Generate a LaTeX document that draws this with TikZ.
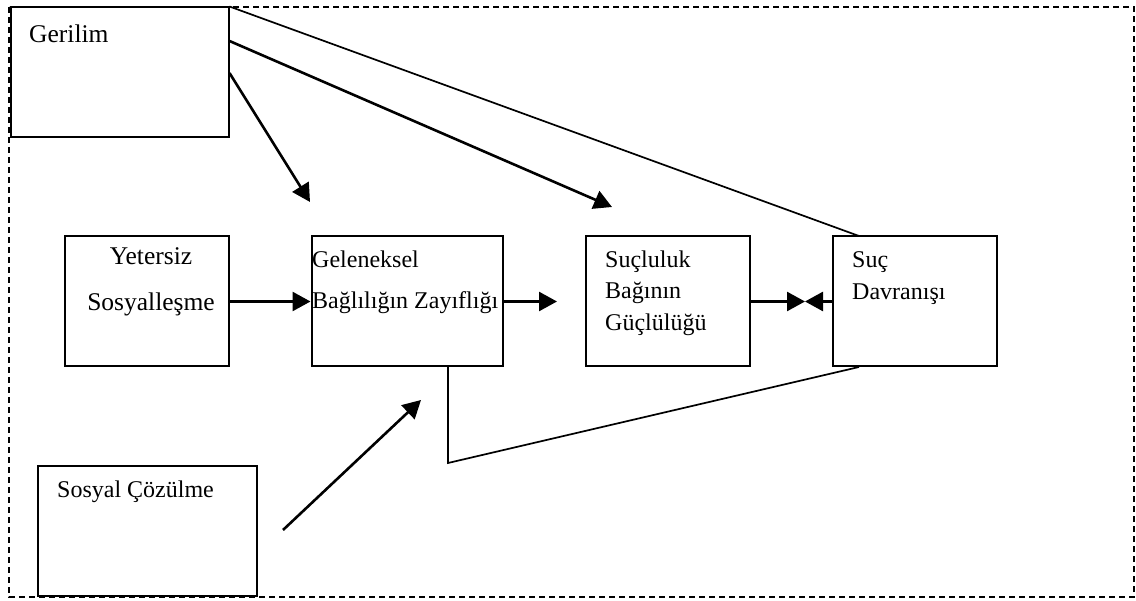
\documentclass[tikz,border=0pt]{standalone}
\usepackage{fontspec}
\setmainfont{Liberation Serif}
\usetikzlibrary{arrows.meta}
\begin{document}
\begin{tikzpicture}[x=1pt,y=-1pt,
  box/.style={draw,line width=2pt,rectangle,inner sep=0pt,fill=white},
  lbl/.style={anchor=base west,inner sep=0pt,font=\fontsize{24}{28}\selectfont},
  clbl/.style={anchor=base,inner sep=0pt,font=\fontsize{25.5}{28}\selectfont},
  thin/.style={line width=1.7pt},
  arr/.style={line width=2.6pt,-{Triangle[length=18pt,width=19pt]}},
  frame/.style={line width=1.4pt,dash pattern=on 6pt off 4pt}]
\useasboundingbox (0,0) rectangle (1136,601);
\draw[frame] (9,7) rectangle (1134,597);
% boxes
\node[box,minimum width=218pt,minimum height=130pt] (ger) at (119.5,72.5) {};
\node[box,minimum width=164pt,minimum height=130pt] (yet) at (146.5,301.5) {};
\node[box,minimum width=191pt,minimum height=130pt] (gel) at (407,301.5) {};
\node[box,minimum width=164pt,minimum height=130pt] (sucl) at (667.5,301.5) {};
\node[box,minimum width=164pt,minimum height=130pt] (suc) at (914.5,301.5) {};
\node[box,minimum width=219pt,minimum height=129pt] (sos) at (147,531) {};
% labels
\node[lbl,font=\fontsize{25.5}{28}\selectfont] (tger) at (29,43) {Gerilim};
\node[clbl] (tyet1) at (151,265) {Yetersiz};
\node[clbl] (tyet2) at (151,311) {Sosyalleşme};
\node[lbl] (tgel1) at (312,268) {Geleneksel};
\node[lbl] (tgel2) at (312,309) {Bağlılığın Zayıflığı};
\node[lbl] (tsl1) at (605,268) {Suçluluk};
\node[lbl] (tsl2) at (605,299) {Bağının};
\node[lbl] (tsl3) at (605,331) {Güçlülüğü};
\node[lbl] (tsuc1) at (852,268) {Suç};
\node[lbl] (tsuc2) at (852,300) {Davranışı};
\node[lbl] (tsos) at (57,497) {Sosyal Çözülme};
% coordinates
\coordinate (g2) at (ger.east |- 0,41);
\coordinate (g3) at (ger.east |- 0,73);
\coordinate (t2) at (612,207);
\coordinate (t3) at (310,202);
\coordinate (sucTop) at (859,236);
\coordinate (sucBot) at (859,367);
\coordinate (low) at (448,463);
\coordinate (gelBot) at (448,367);
\coordinate (tgelR) at (557,301.5);
\coordinate (meet) at (805,301.5);
\coordinate (sosA) at (283,530);
\coordinate (sosT) at (421,400);
% connectors
\draw[thin] (ger.north east) -- (sucTop);
\draw[arr] (g2) -- (t2);
\draw[arr] (g3) -- (t3);
\draw[arr] (yet.east) -- (gel.west);
\draw[arr] (gel.east) -- (tgelR);
\draw[arr] (sucl.east) -- (meet);
\draw[arr] (suc.west) -- (meet);
\draw[thin] (sucBot) -- (low) -- (gelBot);
\draw[arr] (sosA) -- (sosT);
\end{tikzpicture}
\end{document}
